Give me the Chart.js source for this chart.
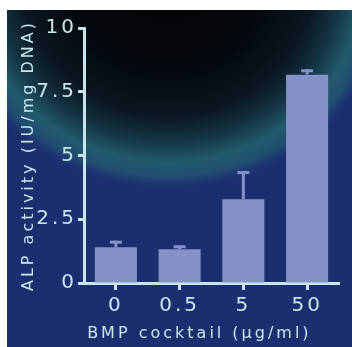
<!DOCTYPE html>
<html>
<head>
<meta charset="utf-8">
<script src="https://cdn.jsdelivr.net/npm/chart.js@4"></script>
<style>
  html, body { margin: 0; padding: 0; background: #ffffff; }
  #wrap { width: 352px; height: 347px; }
</style>
</head>
<body>
<div id="wrap"><canvas id="chart" width="352" height="347"></canvas></div>
<script>
const categories = ['0', '0.5', '5', '50'];
const alpMeans = [1.40, 1.32, 3.28, 8.17];
const alpErrors = [0.26, 0.16, 1.11, 0.21];
const yTicks = [0, 2.5, 5, 7.5, 10];

const ink = '#c6e6ec';
const barColor = '#8592c8';
const fontFamily = '"DejaVu Sans", sans-serif';

// backdrop: white margin, navy panel with a dark glow at the top
const backdrop = {
  id: 'backdrop',
  beforeDraw(chart) {
    const ctx = chart.ctx;
    ctx.save();
    ctx.fillStyle = '#1c2e70';
    ctx.fillRect(7, 10, chart.width - 7, chart.height - 10);
    ctx.beginPath();
    ctx.rect(7, 10, chart.width - 7, chart.height - 10);
    ctx.clip();
    ctx.translate(168, -20);
    ctx.scale(1.07, 1);
    const g = ctx.createRadialGradient(0, 0, 0, 0, 0, 212);
    g.addColorStop(0, '#020305');
    g.addColorStop(0.4, '#04070c');
    g.addColorStop(0.64, '#0a1621');
    g.addColorStop(0.76, '#153444');
    g.addColorStop(0.86, '#225a6c');
    g.addColorStop(0.93, '#224c70');
    g.addColorStop(1, 'rgba(28,46,112,0)');
    ctx.fillStyle = g;
    ctx.beginPath();
    ctx.arc(0, 0, 212, 0, Math.PI * 2);
    ctx.fill();
    ctx.restore();
    ctx.letterSpacing = '3px';
  }
};

// upward error bars, placed through the y scale
const errorBars = {
  id: 'errorBars',
  afterDatasetsDraw(chart) {
    const ctx = chart.ctx;
    const y = chart.scales.y;
    const meta = chart.getDatasetMeta(0);
    ctx.save();
    ctx.fillStyle = barColor;
    meta.data.forEach((bar, i) => {
      const top = y.getPixelForValue(alpMeans[i] + alpErrors[i]);
      ctx.fillRect(bar.x - 1.5, top, 3, bar.y - top);
      ctx.fillRect(bar.x - 6, top, 12, 3);
    });
    ctx.restore();
  }
};

new Chart(document.getElementById('chart'), {
  type: 'bar',
  data: {
    labels: categories,
    datasets: [{
      data: alpMeans,
      backgroundColor: barColor,
      borderWidth: 0,
      barPercentage: 0.66,
      categoryPercentage: 1
    }]
  },
  options: {
    responsive: false,
    animation: false,
    layout: { padding: { left: 19, top: 28, right: 13, bottom: 4 } },
    plugins: { legend: { display: false }, tooltip: { enabled: false } },
    scales: {
      x: {
        afterFit(scale) { scale.height = 60; },
        grid: {
          offset: false,
          drawOnChartArea: false,
          drawTicks: true,
          tickLength: 7,
          tickWidth: 3,
          tickColor: ink
        },
        border: { display: true, color: ink, width: 3 },
        ticks: { color: ink, padding: 4, font: { family: fontFamily, size: 20 } },
        title: {
          display: true,
          text: 'BMP cocktail (\u03bcg/ml)   ',
          color: ink,
          padding: { top: 0, bottom: 0 },
          font: { family: fontFamily, size: 16 }
        }
      },
      y: {
        min: 0,
        max: 10,
        afterFit(scale) { scale.width = 65; },
        afterBuildTicks(scale) { scale.ticks = yTicks.map(v => ({ value: v })); },
        grid: {
          drawOnChartArea: false,
          drawTicks: true,
          tickLength: 6,
          tickWidth: 3,
          tickColor: ink
        },
        border: { display: true, color: ink, width: 3 },
        ticks: {
          color: ink,
          padding: 1,
          font: { family: fontFamily, size: 20 },
          callback: v => String(v)
        },
        title: {
          display: true,
          text: 'ALP activity (IU/mg DNA)',
          color: ink,
          padding: { top: 0, bottom: 0 },
          font: { family: fontFamily, size: 16 }
        }
      }
    }
  },
  plugins: [backdrop, errorBars]
});
</script>
</body>
</html>
